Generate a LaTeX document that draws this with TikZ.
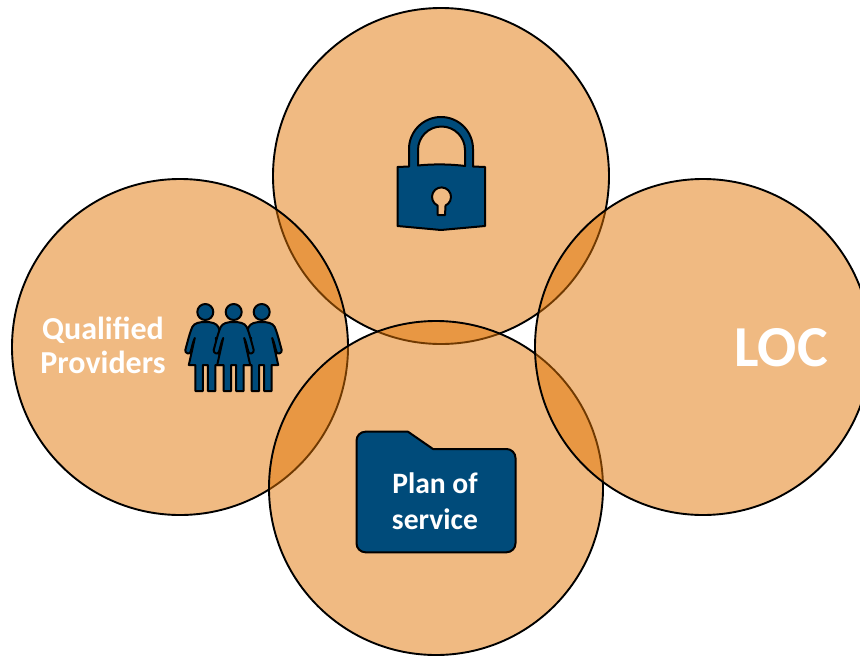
\documentclass[tikz,border=0pt]{standalone}
\usepackage{fontspec}
\setmainfont{Carlito}
\definecolor{petal}{RGB}{225,117,5}
\definecolor{petalbase}{RGB}{240,186,130}
\definecolor{navy}{RGB}{0,75,122}
\tikzset{
  petalcircle/.style={circle,minimum size=#1,inner sep=0pt,fill=petal,fill opacity=.5,draw=black,draw opacity=1,line width=1.9pt},
  icon/.style={fill=navy,draw=black,line width=2pt,line join=round},
  hole/.style={fill=petalbase,draw=black,line width=2pt,line join=round},
  lbl/.style={text=white,align=center,inner sep=0pt},
  person/.pic={
    \path[icon] (0,0) circle (8);
    \path[icon] (0,10) .. controls (6,10) and (11,11) .. (13,15) .. controls (16,22) and (18,31) .. (20,38)
      .. controls (20.6,41) and (16,43) .. (14.8,40) .. controls (13.5,36) and (12.5,30) .. (10.5,26)
      -- (16.5,53) -- (10,53) -- (10,79) -- (2.5,79) -- (2.5,53) -- (-2.5,53) -- (-2.5,79) -- (-10,79) -- (-10,53) -- (-16.5,53) -- (-10.5,26)
      .. controls (-12.5,30) and (-13.5,36) .. (-14.8,40) .. controls (-16,43) and (-20.6,41) .. (-20,38)
      .. controls (-18,31) and (-16,22) .. (-13,15) .. controls (-11,11) and (-6,10) .. (0,10) -- cycle;
  }
}
\begin{document}
\begin{tikzpicture}[x=1pt,y=-1pt]
\useasboundingbox (0,0) rectangle (860,656);
\begin{scope}
\clip (0,0) rectangle (860,656);
\node[petalcircle=336pt] (top) at (441,176) {};
\node[petalcircle=336pt] (left) at (180,347) {};
\node[petalcircle=334pt] (bottom) at (436,488) {};
\node[petalcircle=336pt] (right) at (703,347) {};
\end{scope}
% lock
\path[icon] (397.5,167) -- (409,166.5) -- (409,149) arc[start angle=180,end angle=360,radius=32] -- (473,166.5) -- (485,167)
  -- (485,226) -- (441,230) -- (397.5,226) -- cycle;
\path[hole] (418,165.5) -- (418,150) arc[start angle=180,end angle=360,radius=23.5] -- (465,166) .. controls (450,164) and (432,164) .. (418,165.5) -- cycle;
\path[hole] (437.5,205.5) arc[start angle=115,end angle=425,radius=9.5] -- (445,215) -- (437.5,215) -- cycle;
% people
\pic at (261.7,312) {person};
\pic at (205.3,312) {person};
\pic at (233.7,312) {person};
% folder
\path[icon] (365.5,431.7) -- (408,431.7) -- (433,449) -- (506.5,449) arc[start angle=-90,end angle=0,radius=9] -- (515.5,543.3)
  arc[start angle=0,end angle=90,radius=9] -- (365.5,552.3) arc[start angle=90,end angle=180,radius=9] -- (356.5,440.7) arc[start angle=180,end angle=270,radius=9] -- cycle;
\node[lbl,font=\bfseries\fontsize{29.6}{36}\selectfont] (plan) at (435,501) {Plan of\\service};
\node[lbl,font=\bfseries\fontsize{32}{34}\selectfont] (qual) at (103,345) {Qualified\\Providers};
\node[lbl,font=\bfseries\fontsize{58}{58}\selectfont] (loc) at (781,348) {LOC};
\end{tikzpicture}
\end{document}
